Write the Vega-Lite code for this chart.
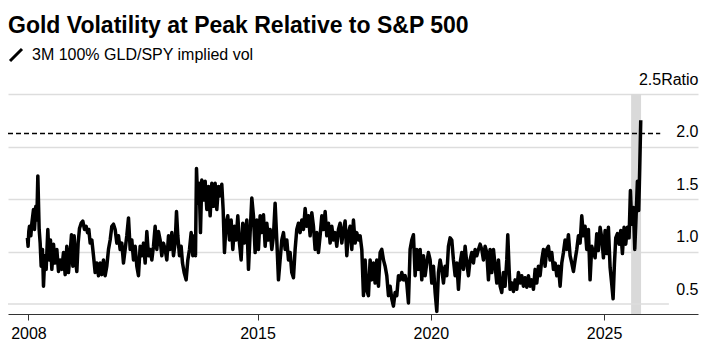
{
  "$schema": "https://vega.github.io/schema/vega-lite/v6.json",
  "width": 690,
  "height": 220,
  "autosize": "none",
  "padding": {"left": 8, "top": 94, "right": 12, "bottom": 43},
  "background": "white",
  "title": {
    "text": "Gold Volatility at Peak Relative to S&P 500",
    "anchor": "start",
    "frame": "group",
    "font": "Liberation Sans",
    "fontSize": 23,
    "fontWeight": "bold",
    "color": "#000000",
    "offset": 9
  },
  "config": {
    "view": {"stroke": null},
    "font": "Liberation Sans"
  },
  "datasets": {
    "vol": [
      {"t":2008.36,"v":1.13},{"t":2008.38,"v":1.05},{"t":2008.40,"v":1.19},{"t":2008.420,"v":1.24},{"t":2008.459,"v":1.15},{"t":2008.488,"v":1.27},{"t":2008.536,"v":1.40},{"t":2008.565,"v":1.21},{"t":2008.603,"v":1.43},{"t":2008.632,"v":1.30},{"t":2008.661,"v":1.72},{"t":2008.699,"v":1.21},{"t":2008.728,"v":1.08},{"t":2008.757,"v":0.86},{"t":2008.795,"v":1.02},{"t":2008.824,"v":0.67},{"t":2008.863,"v":0.96},{"t":2008.901,"v":0.83},{"t":2008.949,"v":1.21},{"t":2008.988,"v":0.92},
      {"t":2009.026,"v":1.11},{"t":2009.065,"v":0.83},{"t":2009.113,"v":1.07},{"t":2009.161,"v":0.89},{"t":2009.209,"v":1.02},{"t":2009.257,"v":0.81},{"t":2009.305,"v":0.92},{"t":2009.353,"v":0.83},{"t":2009.401,"v":0.99},{"t":2009.449,"v":0.78},{"t":2009.497,"v":1.05},{"t":2009.545,"v":0.80},{"t":2009.594,"v":0.99},{"t":2009.632,"v":1.16},{"t":2009.671,"v":0.86},{"t":2009.709,"v":1.15},{"t":2009.747,"v":0.92},{"t":2009.786,"v":0.81},{"t":2009.824,"v":1.08},{"t":2009.863,"v":1.22},{"t":2009.911,"v":1.27},{"t":2009.959,"v":1.29},
      {"t":2010.007,"v":1.21},{"t":2010.055,"v":1.24},{"t":2010.094,"v":1.18},{"t":2010.132,"v":1.21},{"t":2010.171,"v":1.08},{"t":2010.219,"v":1.11},{"t":2010.267,"v":0.96},{"t":2010.315,"v":0.80},{"t":2010.363,"v":0.89},{"t":2010.411,"v":0.77},{"t":2010.459,"v":0.89},{"t":2010.507,"v":0.78},{"t":2010.555,"v":0.92},{"t":2010.603,"v":0.77},{"t":2010.651,"v":0.86},{"t":2010.700,"v":1.02},{"t":2010.748,"v":1.11},{"t":2010.796,"v":1.24},{"t":2010.844,"v":1.26},{"t":2010.892,"v":1.21},{"t":2010.940,"v":1.08},{"t":2010.988,"v":1.15},
      {"t":2011.036,"v":1.02},{"t":2011.084,"v":1.08},{"t":2011.132,"v":0.89},{"t":2011.180,"v":1.02},{"t":2011.228,"v":1.15},{"t":2011.277,"v":1.32},{"t":2011.325,"v":1.02},{"t":2011.373,"v":1.11},{"t":2011.421,"v":0.92},{"t":2011.469,"v":1.05},{"t":2011.517,"v":0.86},{"t":2011.565,"v":0.77},{"t":2011.613,"v":1.05},{"t":2011.661,"v":0.96},{"t":2011.709,"v":1.08},{"t":2011.758,"v":0.89},{"t":2011.806,"v":1.19},{"t":2011.854,"v":0.96},{"t":2011.902,"v":1.02},{"t":2011.950,"v":0.92},{"t":2011.998,"v":1.05},
      {"t":2012.046,"v":1.24},{"t":2012.094,"v":1.02},{"t":2012.142,"v":1.19},{"t":2012.190,"v":1.11},{"t":2012.238,"v":0.96},{"t":2012.286,"v":1.08},{"t":2012.335,"v":1.02},{"t":2012.383,"v":0.92},{"t":2012.431,"v":1.15},{"t":2012.479,"v":1.02},{"t":2012.527,"v":1.18},{"t":2012.575,"v":0.96},{"t":2012.623,"v":1.08},{"t":2012.662,"v":1.38},{"t":2012.700,"v":1.15},{"t":2012.748,"v":0.96},{"t":2012.796,"v":1.05},{"t":2012.835,"v":0.89},{"t":2012.883,"v":0.80},{"t":2012.940,"v":0.73},{"t":2012.989,"v":0.92},
      {"t":2013.037,"v":1.02},{"t":2013.085,"v":1.18},{"t":2013.133,"v":0.96},{"t":2013.171,"v":1.15},{"t":2013.210,"v":0.96},{"t":2013.239,"v":1.79},{"t":2013.277,"v":1.46},{"t":2013.316,"v":1.65},{"t":2013.354,"v":1.18},{"t":2013.392,"v":1.68},{"t":2013.441,"v":1.49},{"t":2013.489,"v":1.67},{"t":2013.537,"v":1.40},{"t":2013.585,"v":1.62},{"t":2013.633,"v":1.34},{"t":2013.681,"v":1.65},{"t":2013.729,"v":1.43},{"t":2013.777,"v":1.65},{"t":2013.825,"v":1.40},{"t":2013.873,"v":1.62},{"t":2013.921,"v":1.53},{"t":2013.969,"v":1.64},
      {"t":2014.008,"v":1.40},{"t":2014.046,"v":0.99},{"t":2014.094,"v":1.27},{"t":2014.142,"v":1.34},{"t":2014.191,"v":1.11},{"t":2014.239,"v":1.30},{"t":2014.287,"v":1.02},{"t":2014.335,"v":1.24},{"t":2014.383,"v":1.11},{"t":2014.431,"v":1.34},{"t":2014.479,"v":1.08},{"t":2014.527,"v":0.92},{"t":2014.575,"v":1.27},{"t":2014.623,"v":1.08},{"t":2014.691,"v":1.30},{"t":2014.739,"v":0.83},{"t":2014.787,"v":1.18},{"t":2014.835,"v":1.51},{"t":2014.883,"v":1.34},{"t":2014.931,"v":0.99},{"t":2014.979,"v":1.30},
      {"t":2015.027,"v":1.02},{"t":2015.075,"v":1.34},{"t":2015.124,"v":1.18},{"t":2015.172,"v":1.35},{"t":2015.220,"v":1.05},{"t":2015.268,"v":1.27},{"t":2015.316,"v":1.11},{"t":2015.364,"v":1.21},{"t":2015.412,"v":1.02},{"t":2015.460,"v":1.15},{"t":2015.508,"v":1.46},{"t":2015.556,"v":1.11},{"t":2015.604,"v":0.73},{"t":2015.652,"v":0.92},{"t":2015.701,"v":1.11},{"t":2015.749,"v":1.18},{"t":2015.797,"v":1.02},{"t":2015.845,"v":1.11},{"t":2015.893,"v":0.92},{"t":2015.941,"v":0.99},{"t":2015.989,"v":0.80},
      {"t":2016.037,"v":0.75},{"t":2016.085,"v":1.02},{"t":2016.133,"v":1.21},{"t":2016.181,"v":1.27},{"t":2016.229,"v":1.18},{"t":2016.278,"v":1.30},{"t":2016.326,"v":1.21},{"t":2016.374,"v":1.41},{"t":2016.422,"v":1.24},{"t":2016.470,"v":1.34},{"t":2016.518,"v":1.15},{"t":2016.566,"v":1.37},{"t":2016.614,"v":1.24},{"t":2016.662,"v":1.02},{"t":2016.710,"v":1.18},{"t":2016.758,"v":0.99},{"t":2016.806,"v":1.15},{"t":2016.855,"v":1.34},{"t":2016.903,"v":1.21},{"t":2016.951,"v":1.38},{"t":2016.999,"v":1.15},
      {"t":2017.047,"v":1.27},{"t":2017.095,"v":1.08},{"t":2017.143,"v":1.24},{"t":2017.191,"v":1.11},{"t":2017.239,"v":1.18},{"t":2017.287,"v":1.05},{"t":2017.335,"v":1.21},{"t":2017.383,"v":1.27},{"t":2017.432,"v":1.08},{"t":2017.480,"v":1.21},{"t":2017.528,"v":1.29},{"t":2017.576,"v":0.96},{"t":2017.624,"v":1.18},{"t":2017.672,"v":1.24},{"t":2017.720,"v":1.02},{"t":2017.768,"v":1.30},{"t":2017.816,"v":1.08},{"t":2017.864,"v":1.18},{"t":2017.912,"v":1.11},{"t":2017.960,"v":1.15},
      {"t":2018.009,"v":1.02},{"t":2018.057,"v":0.58},{"t":2018.105,"v":0.92},{"t":2018.153,"v":0.63},{"t":2018.201,"v":0.58},{"t":2018.249,"v":0.92},{"t":2018.297,"v":0.73},{"t":2018.345,"v":0.89},{"t":2018.393,"v":0.70},{"t":2018.442,"v":0.92},{"t":2018.490,"v":0.67},{"t":2018.538,"v":0.99},{"t":2018.586,"v":1.02},{"t":2018.634,"v":0.92},{"t":2018.682,"v":0.86},{"t":2018.730,"v":0.77},{"t":2018.778,"v":0.58},{"t":2018.826,"v":0.67},{"t":2018.874,"v":0.55},{"t":2018.922,"v":0.48},{"t":2018.970,"v":0.61},
      {"t":2019.019,"v":0.58},{"t":2019.067,"v":0.77},{"t":2019.115,"v":0.73},{"t":2019.163,"v":0.80},{"t":2019.211,"v":0.73},{"t":2019.259,"v":0.77},{"t":2019.307,"v":0.70},{"t":2019.355,"v":0.51},{"t":2019.403,"v":1.02},{"t":2019.451,"v":1.11},{"t":2019.499,"v":1.16},{"t":2019.548,"v":0.77},{"t":2019.596,"v":1.02},{"t":2019.644,"v":0.83},{"t":2019.692,"v":1.02},{"t":2019.740,"v":0.73},{"t":2019.788,"v":0.96},{"t":2019.836,"v":0.77},{"t":2019.884,"v":0.89},{"t":2019.932,"v":0.99},{"t":2019.980,"v":0.92},
      {"t":2020.028,"v":0.70},{"t":2020.076,"v":0.86},{"t":2020.125,"v":0.61},{"t":2020.173,"v":0.43},{"t":2020.221,"v":0.80},{"t":2020.269,"v":0.92},{"t":2020.317,"v":0.83},{"t":2020.365,"v":0.70},{"t":2020.413,"v":0.86},{"t":2020.461,"v":0.77},{"t":2020.509,"v":1.05},{"t":2020.557,"v":1.13},{"t":2020.605,"v":1.11},{"t":2020.653,"v":0.92},{"t":2020.702,"v":0.77},{"t":2020.750,"v":0.89},{"t":2020.798,"v":0.64},{"t":2020.846,"v":0.89},{"t":2020.894,"v":0.99},{"t":2020.942,"v":0.83},{"t":2020.990,"v":1.05},
      {"t":2021.038,"v":0.89},{"t":2021.086,"v":0.77},{"t":2021.134,"v":0.92},{"t":2021.182,"v":0.99},{"t":2021.230,"v":0.89},{"t":2021.279,"v":1.02},{"t":2021.327,"v":0.96},{"t":2021.375,"v":1.02},{"t":2021.423,"v":1.07},{"t":2021.471,"v":1.02},{"t":2021.519,"v":0.92},{"t":2021.567,"v":1.05},{"t":2021.615,"v":0.99},{"t":2021.663,"v":0.73},{"t":2021.711,"v":1.02},{"t":2021.759,"v":0.80},{"t":2021.808,"v":1.02},{"t":2021.856,"v":0.86},{"t":2021.904,"v":0.70},{"t":2021.952,"v":0.92},
      {"t":2022.000,"v":0.67},{"t":2022.048,"v":0.61},{"t":2022.096,"v":0.80},{"t":2022.144,"v":0.67},{"t":2022.192,"v":0.92},{"t":2022.221,"v":1.16},{"t":2022.260,"v":0.83},{"t":2022.288,"v":0.64},{"t":2022.337,"v":0.70},{"t":2022.385,"v":0.62},{"t":2022.433,"v":0.73},{"t":2022.481,"v":0.64},{"t":2022.529,"v":0.80},{"t":2022.577,"v":0.70},{"t":2022.625,"v":0.77},{"t":2022.673,"v":0.67},{"t":2022.721,"v":0.75},{"t":2022.769,"v":0.66},{"t":2022.817,"v":0.77},{"t":2022.865,"v":0.67},{"t":2022.914,"v":0.73},{"t":2022.962,"v":0.64},
      {"t":2023.010,"v":0.83},{"t":2023.058,"v":0.70},{"t":2023.106,"v":0.86},{"t":2023.154,"v":0.77},{"t":2023.202,"v":0.92},{"t":2023.250,"v":1.02},{"t":2023.298,"v":0.86},{"t":2023.346,"v":1.02},{"t":2023.394,"v":1.05},{"t":2023.442,"v":0.92},{"t":2023.491,"v":0.99},{"t":2023.539,"v":0.83},{"t":2023.587,"v":0.89},{"t":2023.635,"v":0.77},{"t":2023.683,"v":0.86},{"t":2023.731,"v":0.67},{"t":2023.779,"v":0.89},{"t":2023.827,"v":0.99},{"t":2023.875,"v":1.11},{"t":2023.923,"v":1.02},{"t":2023.971,"v":1.16},
      {"t":2024.019,"v":0.96},{"t":2024.068,"v":0.89},{"t":2024.116,"v":0.81},{"t":2024.164,"v":0.92},{"t":2024.212,"v":1.02},{"t":2024.260,"v":1.15},{"t":2024.308,"v":1.08},{"t":2024.356,"v":1.34},{"t":2024.404,"v":1.15},{"t":2024.452,"v":1.24},{"t":2024.500,"v":1.02},{"t":2024.548,"v":1.21},{"t":2024.596,"v":0.73},{"t":2024.644,"v":1.05},{"t":2024.692,"v":0.99},{"t":2024.741,"v":0.94},{"t":2024.789,"v":1.17},{"t":2024.837,"v":1.01},{"t":2024.885,"v":1.23},{"t":2024.933,"v":1.13},{"t":2024.981,"v":0.94},
      {"t":2025.029,"v":1.20},{"t":2025.077,"v":0.98},{"t":2025.125,"v":1.23},{"t":2025.173,"v":0.85},{"t":2025.221,"v":0.69},{"t":2025.260,"v":0.55},{"t":2025.298,"v":0.88},{"t":2025.337,"v":1.13},{"t":2025.385,"v":1.17},{"t":2025.433,"v":1.07},{"t":2025.481,"v":1.20},{"t":2025.529,"v":0.98},{"t":2025.577,"v":1.23},{"t":2025.625,"v":1.07},{"t":2025.673,"v":1.23},{"t":2025.721,"v":1.13},{"t":2025.760,"v":1.58},{"t":2025.798,"v":1.26},{"t":2025.846,"v":1.42},{"t":2025.885,"v":1.02},{"t":2025.923,"v":1.33},{"t":2025.962,"v":1.67},
      {"t":2026.000,"v":1.39},{"t":2026.029,"v":1.80},{"t":2026.058,"v":2.25}
    ],
    "band": [{"start": 2025.78, "end": 2026.067}],
    "dashed": [{"from": 2007.80, "to": 2026.62, "level": 2.125}],
    "baseGrid": [{"from": 2007.80, "to": 2026.87, "level": 0.5}]
  },
  "layer": [
    {
      "data": {"name": "band"},
      "mark": {"type": "rect", "color": "#d9d9d9"},
      "encoding": {
        "x": {
          "field": "start", "type": "quantitative", "title": null,
          "scale": {"domain": [2007.80, 2027.71], "nice": false, "zero": false},
          "axis": {
            "values": [2008.39, 2015, 2020, 2025],
            "labelExpr": "floor(datum.value)",
            "grid": false,
            "domainColor": "#333333",
            "domainWidth": 1,
            "tickColor": "#333333",
            "tickSize": 6,
            "labelFontSize": 16,
            "labelColor": "#000000",
            "labelPadding": 5,
            "labelFlush": false,
            "labelOverlap": false,
            "title": null
          }
        },
        "x2": {"field": "end"}
      }
    },
    {
      "data": {"name": "baseGrid"},
      "mark": {"type": "rule", "color": "#dddddd", "strokeWidth": 1.5},
      "encoding": {
        "x": {"field": "from", "type": "quantitative", "title": null},
        "x2": {"field": "to"},
        "y": {"field": "level", "type": "quantitative", "title": null}
      }
    },
    {
      "data": {"name": "dashed"},
      "mark": {"type": "rule", "color": "#000000", "strokeWidth": 1.5, "strokeDash": [5, 3]},
      "encoding": {
        "x": {"field": "from", "type": "quantitative", "title": null},
        "x2": {"field": "to"},
        "y": {"field": "level", "type": "quantitative", "title": null}
      }
    },
    {
      "data": {"name": "vol"},
      "mark": {"type": "line", "strokeWidth": 3.5, "strokeJoin": "round", "strokeCap": "butt"},
      "encoding": {
        "x": {"field": "t", "type": "quantitative", "title": null},
        "y": {
          "field": "v", "type": "quantitative", "title": null,
          "scale": {"domain": [0.405, 2.5], "nice": false, "zero": false},
          "axis": {
            "orient": "right",
            "values": [0.5, 1, 1.5, 2, 2.5],
            "labelExpr": "datum.value == 2.5 ? '2.5Ratio' : format(datum.value, '.1f')",
            "domain": false,
            "ticks": false,
            "tickSize": 0,
            "grid": true,
            "gridColor": "#dddddd",
            "gridWidth": 1.5,
            "gridOpacity": {"condition": {"test": "datum.value == 0.5", "value": 0}, "value": 1},
            "labelAlign": "right",
            "labelBaseline": "alphabetic",
            "labelOffset": -10,
            "labelPadding": 0,
            "labelFontSize": 16,
            "labelColor": "#000000",
            "labelFlush": false,
            "labelOverlap": false,
            "title": null
          }
        },
        "color": {
          "datum": "3M 100% GLD/SPY implied vol",
          "scale": {"range": ["#000000"]},
          "legend": {
            "orient": "none",
            "legendX": 0,
            "legendY": -47,
            "title": null,
            "padding": 0,
            "symbolType": "M-1,1L1,-1",
            "symbolSize": 144,
            "symbolStrokeWidth": 3,
            "symbolStrokeColor": "#000000",
            "symbolFillColor": "transparent",
            "labelFontSize": 16,
            "labelColor": "#000000",
            "labelOffset": 8,
            "labelLimit": 500
          }
        }
      }
    }
  ]
}
